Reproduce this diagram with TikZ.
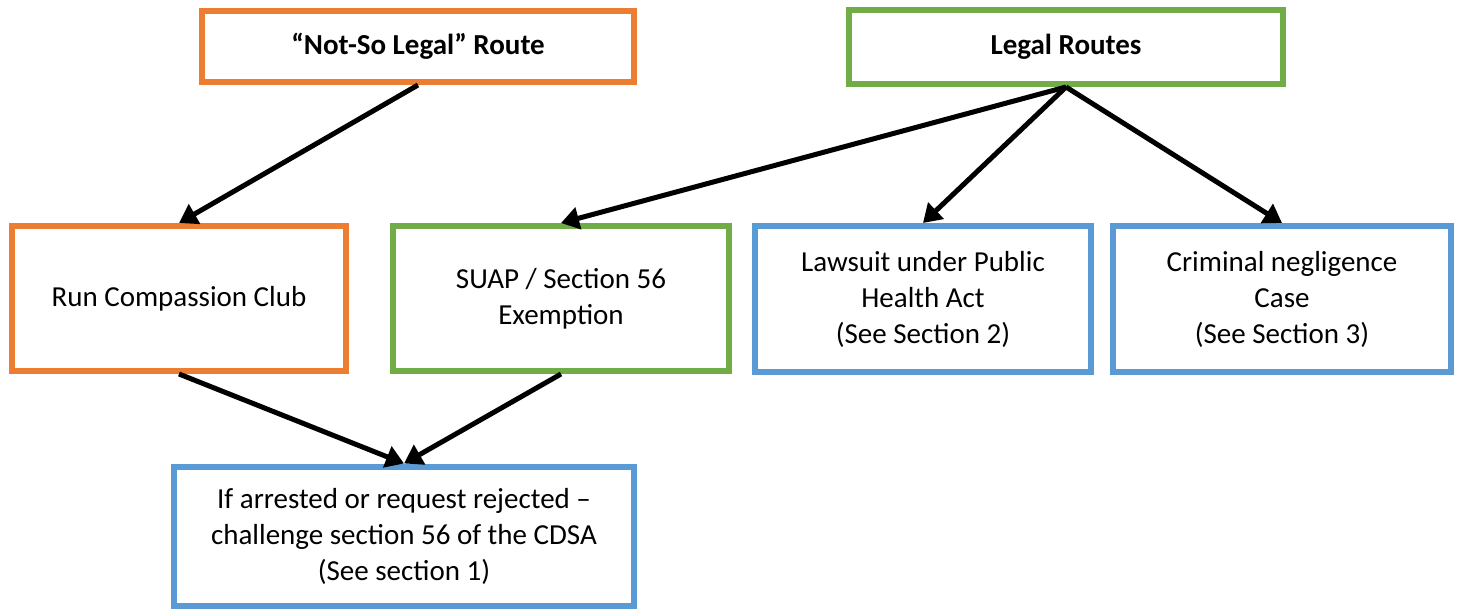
\documentclass[tikz,border=0pt]{standalone}
\usepackage{fontspec}
\setmainfont{Carlito}
\usepackage{xcolor}
\usetikzlibrary{arrows.meta,positioning}

\definecolor{routeorange}{HTML}{ED7D31}
\definecolor{routegreen}{HTML}{70AD47}
\definecolor{routeblue}{HTML}{5B9BD5}

\begin{document}
\begin{tikzpicture}[x=0.5pt,y=-0.5pt,
    box/.style={draw, line width=3pt, fill=white, align=center, inner sep=0pt,
      font=\fontsize{14.5}{18}\selectfont},
    flow/.style={line width=2.5pt, -{Triangle[length=9pt,width=11pt]}}]
    \useasboundingbox (0,0) rectangle (1459,609);

    % Top row
    \node[box, draw=routeorange, minimum width=216pt, minimum height=35.5pt,
      font=\fontsize{14.5}{18}\selectfont\bfseries] (notsolegal) at (418,46.5) {“Not-So Legal” Route};
    \node[box, draw=routegreen, minimum width=217pt, minimum height=37pt,
      font=\fontsize{14.5}{18}\selectfont\bfseries] (legal) at (1066,47) {Legal Routes};

    % Middle row
    \node[box, draw=routeorange, minimum width=167pt, minimum height=72.5pt] (club) at (179,298.5) {Run Compassion Club};
    \node[box, draw=routegreen, minimum width=168pt, minimum height=72.5pt] (suap) at (561,298.5) {SUAP / Section 56\\Exemption};
    \node[box, draw=routeblue, minimum width=168pt, minimum height=73pt] (lawsuit) at (923,299) {Lawsuit under Public\\Health Act\\(See Section 2)};
    \node[box, draw=routeblue, minimum width=169pt, minimum height=73pt] (criminal) at (1282,299) {Criminal negligence\\Case\\(See Section 3)};

    % Bottom row
    \node[box, draw=routeblue, minimum width=230pt, minimum height=69.5pt] (challenge) at (404,536) {If arrested or request rejected –\\challenge section 56 of the CDSA\\(See section 1)};

    % Arrows
    \draw[flow] (notsolegal.south) -- (club.north);
    \draw[flow] (legal.south) -- (suap.north);
    \draw[flow] (legal.south) -- (lawsuit.north);
    \draw[flow] (legal.south) -- (criminal.north);
    \draw[flow] (club.south) -- (challenge.north);
    \draw[flow] (suap.south) -- (challenge.north);
\end{tikzpicture}
\end{document}
